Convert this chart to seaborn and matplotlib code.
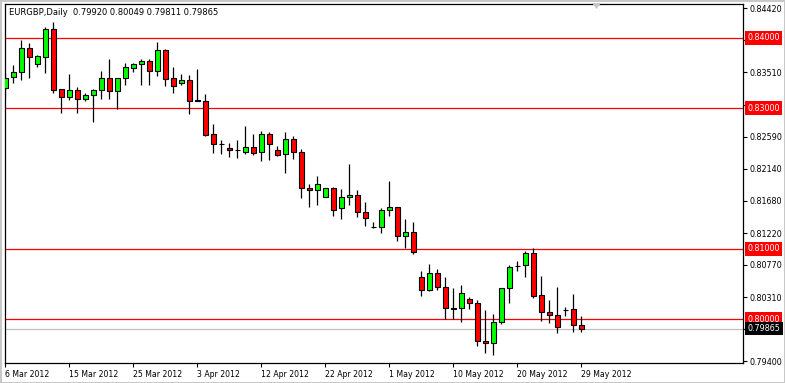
import matplotlib
matplotlib.use("Agg")
import matplotlib.pyplot as plt
import seaborn as sns
import pandas as pd
from matplotlib.patches import Polygon

# ---------------- data ----------------
symbol = "EURGBP,Daily"
opens = [0.83282, 0.83439, 0.83510, 0.83851, 0.83624, 0.83732, 0.84126, 0.83268, 0.83163, 0.83258,
         0.83126, 0.83183, 0.83258, 0.83425, 0.83244, 0.83425, 0.83567, 0.83624, 0.83666, 0.83533,
         0.83823, 0.83425, 0.83354, 0.83396, 0.83110, 0.83106, 0.82628, 0.82490, 0.82433, 0.82405,
         0.82381, 0.82443, 0.82372, 0.82628, 0.82401, 0.82344, 0.82557, 0.82372, 0.81860, 0.81832,
         0.81741, 0.81860, 0.81576, 0.81732, 0.81761, 0.81519, 0.81306, 0.81306, 0.81548, 0.81590,
         0.81178, 0.81235, 0.80595, 0.80410, 0.80652, 0.80453, 0.80154, 0.80154, 0.80282, 0.80225,
         0.79685, 0.79656, 0.79955, 0.80438, 0.80755, 0.80765, 0.80936, 0.80339, 0.80097, 0.80054,
         0.80125, 0.80140, 0.79920]
highs = [0.83500, 0.83614, 0.83969, 0.83922, 0.83750, 0.84158, 0.84225, 0.83275, 0.83486, 0.83297,
         0.83211, 0.83268, 0.83533, 0.83695, 0.83430, 0.83646, 0.83646, 0.83695, 0.83695, 0.83940,
         0.83837, 0.83581, 0.83486, 0.83472, 0.83553, 0.83207, 0.82770, 0.82547, 0.82500, 0.82547,
         0.82746, 0.82633, 0.82671, 0.82657, 0.82462, 0.82657, 0.82604, 0.82419, 0.81917, 0.82035,
         0.81866, 0.81875, 0.81850, 0.82206, 0.81836, 0.81666, 0.81381, 0.81576, 0.81960, 0.81595,
         0.81420, 0.81377, 0.80680, 0.80780, 0.80709, 0.80595, 0.80438, 0.80481, 0.80310, 0.80268,
         0.80125, 0.80073, 0.80443, 0.80770, 0.80827, 0.80969, 0.81009, 0.80613, 0.80268, 0.80453,
         0.80168, 0.80358, 0.80049]
lows = [0.83159, 0.83362, 0.83400, 0.83433, 0.83589, 0.83496, 0.83220, 0.82935, 0.83116, 0.82927,
        0.83106, 0.82807, 0.83126, 0.83126, 0.82984, 0.83329, 0.83518, 0.83329, 0.83329, 0.83457,
        0.83309, 0.83220, 0.83329, 0.82917, 0.83100, 0.82604, 0.82367, 0.82348, 0.82310, 0.82287,
        0.82348, 0.82334, 0.82253, 0.82263, 0.82325, 0.82082, 0.82277, 0.81727, 0.81599, 0.81627,
        0.81735, 0.81471, 0.81428, 0.81627, 0.81457, 0.81329, 0.81300, 0.81220, 0.81471, 0.81115,
        0.81016, 0.80930, 0.80333, 0.80396, 0.80410, 0.80006, 0.80006, 0.79963, 0.80140, 0.79622,
        0.79525, 0.79494, 0.79935, 0.80234, 0.80689, 0.80603, 0.80305, 0.79969, 0.79949, 0.79799,
        0.80049, 0.79821, 0.79811]
closes = [0.83433, 0.83514, 0.83851, 0.83723, 0.83742, 0.84126, 0.83258, 0.83163, 0.83258, 0.83126,
          0.83183, 0.83258, 0.83425, 0.83244, 0.83425, 0.83581, 0.83624, 0.83666, 0.83533, 0.83823,
          0.83411, 0.83315, 0.83396, 0.83106, 0.83106, 0.82618, 0.82490, 0.82488, 0.82401, 0.82398,
          0.82443, 0.82367, 0.82628, 0.82486, 0.82330, 0.82557, 0.82372, 0.81860, 0.81832, 0.81917,
          0.81860, 0.81556, 0.81732, 0.81761, 0.81519, 0.81434, 0.81306, 0.81548, 0.81590, 0.81178,
          0.81235, 0.80950, 0.80410, 0.80652, 0.80453, 0.80154, 0.80150, 0.80367, 0.80225, 0.79685,
          0.79656, 0.79955, 0.80438, 0.80737, 0.80760, 0.80936, 0.80333, 0.80097, 0.80054, 0.79884,
          0.80130, 0.79912, 0.79865]
date_labels = ["6 Mar 2012", "15 Mar 2012", "25 Mar 2012", "3 Apr 2012", "12 Apr 2012",
               "22 Apr 2012", "1 May 2012", "10 May 2012", "20 May 2012", "29 May 2012"]
label_step = 8
y_ticks = [0.84420, 0.83965, 0.83510, 0.83050, 0.82590, 0.82140, 0.81680, 0.81220,
           0.80770, 0.80310, 0.79855, 0.79400]
levels = [0.84, 0.83, 0.81, 0.80]
last_price = 0.79865

# ---------------- figure ----------------
sns.set_theme(style="white")
plt.rcParams["font.family"] = ["DejaVu Sans"]

df = pd.DataFrame(dict(open=opens, high=highs, low=lows, close=closes))
df["idx"] = range(len(df))
df["bottom"] = df[["open", "close"]].min(axis=1)
df["height"] = (df["close"] - df["open"]).abs()
df["color"] = ["#00FF00" if c > o else "#FF0000" for o, c in zip(df["open"], df["close"])]

W, H = 785, 383
fig = plt.figure(figsize=(W / 100, H / 100), dpi=100)
fig.patch.set_facecolor("white")
ax = fig.add_axes([4.5 / W, 1 - 363.3 / H, (743 - 4.5) / W, (363.3 - 4) / H])
ax.set_facecolor("white")

for lv in levels:
    ax.axhline(lv, color="#FF0000", lw=0.9, zorder=1)
ax.axhline(last_price, color="#C0C0C0", lw=0.9, zorder=1)

ax.vlines(df["idx"], df["low"], df["high"], color="black", lw=0.9, zorder=2)
ax.bar(df["idx"], df["height"], bottom=df["bottom"], width=0.58,
       color=df["color"], edgecolor="black", linewidth=0.8, zorder=3)

ax.set_xlim(-0.125, 92.19)
ax.set_ylim(0.79372, 0.84481)

for s in ax.spines.values():
    s.set_color("black")
    s.set_linewidth(0.9)
    s.set_visible(True)

ax.yaxis.tick_right()
ax.set_yticks(y_ticks)
ax.set_yticklabels([f"{v:.5f}" for v in y_ticks])
ax.tick_params(axis="y", direction="out", length=3, width=0.8, color="black",
               labelsize=5.8, pad=1.5, labelcolor="black", right=True, left=False)

xt = [i * label_step for i in range(len(date_labels))]
ax.set_xticks(xt)
ax.set_xticklabels(date_labels)
ax.tick_params(axis="x", direction="out", length=3, width=0.8, color="black",
               labelsize=5.6, pad=1.5, labelcolor="black", bottom=True)
for lab in ax.get_xticklabels():
    lab.set_horizontalalignment("left")

# price boxes on the right axis
for lv in levels:
    ax.annotate(f"{lv:.5f}", xy=(1, lv), xycoords=("axes fraction", "data"),
                xytext=(4.5, 0), textcoords="offset pixels", ha="left", va="center",
                fontsize=5.8, color="white", annotation_clip=False, zorder=6,
                bbox=dict(boxstyle="square,pad=0.28", facecolor="#FF0000", edgecolor="none"))
ax.annotate(f"{last_price:.5f}", xy=(1, last_price), xycoords=("axes fraction", "data"),
            xytext=(4.5, 0), textcoords="offset pixels", ha="left", va="center",
            fontsize=5.8, color="white", annotation_clip=False, zorder=6,
            bbox=dict(boxstyle="square,pad=0.28", facecolor="black", edgecolor="none"))

# title line
o, h, l, c = opens[-1], highs[-1], lows[-1], closes[-1]
ax.text(9.3 / (743 - 4.5) - 4.5 / (743 - 4.5) + 0.0, 1 - 8.7 / (363.3 - 4),
        f"{symbol}  {o:.5f} {h:.5f} {l:.5f} {c:.5f}", transform=ax.transAxes,
        ha="left", va="center", fontsize=6, color="black", zorder=6)

# chart shift marker and window frame
tri = Polygon([[592 / W, 1 - 3 / H], [601 / W, 1 - 3 / H], [596.5 / W, 1 - 9 / H]],
              closed=True, transform=fig.transFigure, facecolor="#C8C8C8", edgecolor="none")
fig.add_artist(tri)
fig.patch.set_edgecolor("#C8C8C8")
fig.patch.set_linewidth(2)

fig.savefig("out.png", dpi=100, facecolor=fig.get_facecolor(), edgecolor=fig.get_edgecolor())
